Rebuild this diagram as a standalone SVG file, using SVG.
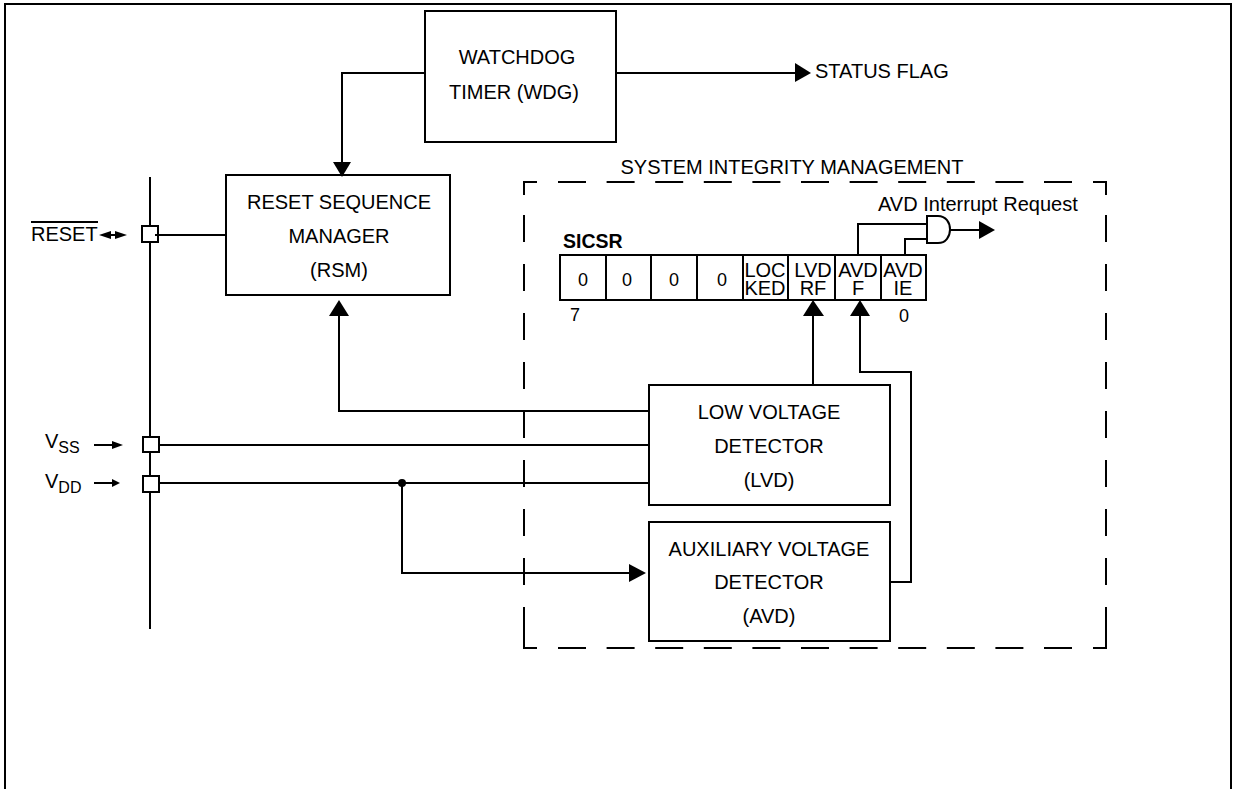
<svg xmlns="http://www.w3.org/2000/svg" width="1237" height="789" viewBox="0 0 1237 789">
<defs><style>
.l{fill:none;stroke:#000;stroke-width:2}
.d{fill:none;stroke:#000;stroke-width:2}
.t{font-family:"Liberation Sans",Arial,sans-serif;font-size:20px;fill:#000;text-anchor:middle}
.s{text-anchor:start}
.n{font-size:18px}
.a{fill:#000;stroke:none}
.p{fill:#fff;stroke:#000;stroke-width:2}
</style></defs>
<rect width="1237" height="789" fill="#fff"/>
<path class="l" d="M5 789V4H1231V789"/>
<g id="connectors">
<path class="l" d="M150 177V629"/>
<path class="l" d="M158 235H226"/>
<path class="l" d="M425 73H342V162"/>
<path class="l" d="M616 73H795"/>
<path class="l" d="M649 411H339V316"/>
<path class="l" d="M813 385V316"/>
<path class="l" d="M159 445H649"/>
<path class="l" d="M159 483H649"/>
<path class="l" d="M402 483V573H630"/>
<path class="l" d="M890 582H911V372H860V316"/>
<path class="l" d="M858 255V224H927"/>
<path class="l" d="M905 255V239H927"/>
<path class="l" d="M950 230H980"/>
<circle class="a" cx="402" cy="483" r="4"/>
<path class="a" d="M333 162H351L342 177Z"/>
<path class="a" d="M795 63L811 73L795 82Z"/>
<path class="a" d="M329 316L339 300L349 316Z"/>
<path class="a" d="M803 316L813 300L824 316Z"/>
<path class="a" d="M850 316L860 300L870 316Z"/>
<path class="a" d="M629 564L646 573L629 582Z"/>
<path class="a" d="M979 221L995 230L979 239Z"/>
<path class="l" d="M927 216H938C954 216 954 243 938 243H927Z"/>
<path class="l" d="M106 235H120"/>
<path class="a" d="M99 235L111 231V239Z"/>
<path class="a" d="M127 235L115 231V239Z"/>
<path class="l" d="M94 445H114"/>
<path class="a" d="M112 441L123 445L112 449Z"/>
<path class="l" d="M94 483H114"/>
<path class="a" d="M112 479L120 483L112 487Z"/>
</g>
<g id="port-reset"><rect class="p" x="142" y="226" width="16" height="16"/><path class="l" d="M155 235H158"/></g>
<g id="port-vss"><rect class="p" x="143" y="437" width="16" height="15"/></g>
<g id="port-vdd"><rect class="p" x="143" y="476" width="16" height="16"/></g>
<g id="wdg"><rect class="l" x="425" y="11" width="191" height="131"/>
<text class="t" x="517" y="64">WATCHDOG</text><text class="t" x="514" y="99">TIMER (WDG)</text></g>
<g id="rsm"><rect class="l" x="226" y="175" width="224" height="120"/>
<text class="t" x="339" y="209">RESET SEQUENCE</text><text class="t" x="339" y="243">MANAGER</text><text class="t" x="339" y="277">(RSM)</text></g>
<g id="sim">
<path class="d" d="M524 195V182H537M1093 182H1106V195M524 634V648H537M1093 648H1106V634"/>
<path class="d" stroke-dasharray="28 20.6" d="M558 182H1072M558 648H1072"/>
<path class="d" stroke-dasharray="27 22" d="M524 215V634M1106 215V634"/>
<text class="t" x="792" y="174">SYSTEM INTEGRITY MANAGEMENT</text></g>
<g id="lvd"><rect class="l" x="649" y="385" width="241" height="120"/>
<text class="t" x="769" y="419">LOW VOLTAGE</text><text class="t" x="769" y="453">DETECTOR</text><text class="t" x="769" y="487">(LVD)</text></g>
<g id="avd"><rect class="l" x="649" y="522" width="241" height="119"/>
<text class="t" x="769" y="556">AUXILIARY VOLTAGE</text><text class="t" x="769" y="589">DETECTOR</text><text class="t" x="769" y="623">(AVD)</text></g>
<g id="sicsr"><rect class="l" x="560" y="255" width="366" height="45"/>
<path class="l" d="M606 255V300M651 255V300M697 255V300M743 255V300M788 255V300M835 255V300M881 255V300"/>
<text class="t n" x="583" y="286">0</text><text class="t n" x="627" y="286">0</text><text class="t n" x="674" y="286">0</text><text class="t n" x="722" y="286">0</text>
<text class="t" x="765" y="277">LOC</text><text class="t" x="765" y="295">KED</text>
<text class="t" x="813" y="277">LVD</text><text class="t" x="813" y="295">RF</text>
<text class="t" x="858" y="277">AVD</text><text class="t" x="858" y="295">F</text>
<text class="t" x="903" y="277">AVD</text><text class="t" x="903" y="295">IE</text>
<text class="t s" x="563" y="248" style="font-weight:bold;font-size:19.5px">SICSR</text>
<text class="t n" x="575" y="321">7</text><text class="t n" x="904" y="322">0</text></g>
<text class="t s" x="815" y="78">STATUS FLAG</text>
<text class="t s" x="878" y="211">AVD Interrupt Request</text>
<text class="t s" x="31" y="241">RESET</text><path class="l" d="M31 222H98"/>
<text class="t s" x="45" y="448">V<tspan font-size="16" dy="5">SS</tspan></text>
<text class="t s" x="45" y="488">V<tspan font-size="16" dy="5">DD</tspan></text>
</svg>
